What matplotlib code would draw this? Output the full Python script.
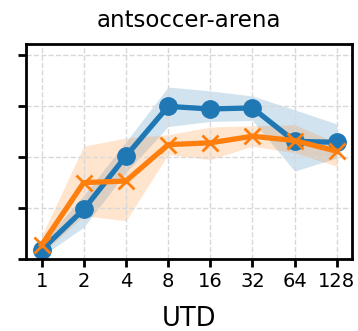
import matplotlib
matplotlib.use("Agg")
import matplotlib.pyplot as plt
import numpy as np

utd = ["1", "2", "4", "8", "16", "32", "64", "128"]

blue_mean = [0.036, 0.195, 0.404, 0.599, 0.589, 0.593, 0.462, 0.458]
blue_low = [0.01, 0.125, 0.34, 0.52, 0.54, 0.544, 0.345, 0.397]
blue_high = [0.06, 0.25, 0.46, 0.675, 0.66, 0.64, 0.586, 0.53]

orange_mean = [0.055, 0.30, 0.306, 0.449, 0.456, 0.482, 0.465, 0.423]
orange_low = [0.02, 0.17, 0.15, 0.41, 0.39, 0.443, 0.417, 0.364]
orange_high = [0.09, 0.443, 0.475, 0.488, 0.518, 0.523, 0.527, 0.456]

x = np.arange(len(utd))

fig = plt.figure(figsize=(3.58, 3.31), dpi=100)
ax = fig.add_axes([26 / 358, 1 - 259 / 331, 326 / 358, 215 / 331])

ax.fill_between(x, blue_low, blue_high, color="tab:blue", alpha=0.2, linewidth=0)
ax.fill_between(x, orange_low, orange_high, color="tab:orange", alpha=0.2, linewidth=0)
ax.plot(x, blue_mean, color="tab:blue", marker="o", markersize=12.5, linewidth=3.8)
ax.plot(x, orange_mean, color="tab:orange", marker="x", markersize=12,
        markeredgewidth=2, linewidth=3.8)

ax.set_xlim(-0.37, 7.36)
ax.set_ylim(0, 0.844)
ax.set_xticks(x)
ax.set_xticklabels(utd, fontsize=14)
ax.set_yticks([0, 0.2, 0.4, 0.6, 0.8])
ax.set_yticklabels([])
ax.grid(True, linestyle="--", color="#d8d8d8", linewidth=1)
ax.tick_params(width=2, length=6)
for s in ax.spines.values():
    s.set_linewidth(2)

ax.set_title("antsoccer-arena", fontsize=16.5, pad=12)
ax.set_xlabel("UTD", fontsize=18.5, labelpad=11)

fig.savefig("out.png", dpi=100)
